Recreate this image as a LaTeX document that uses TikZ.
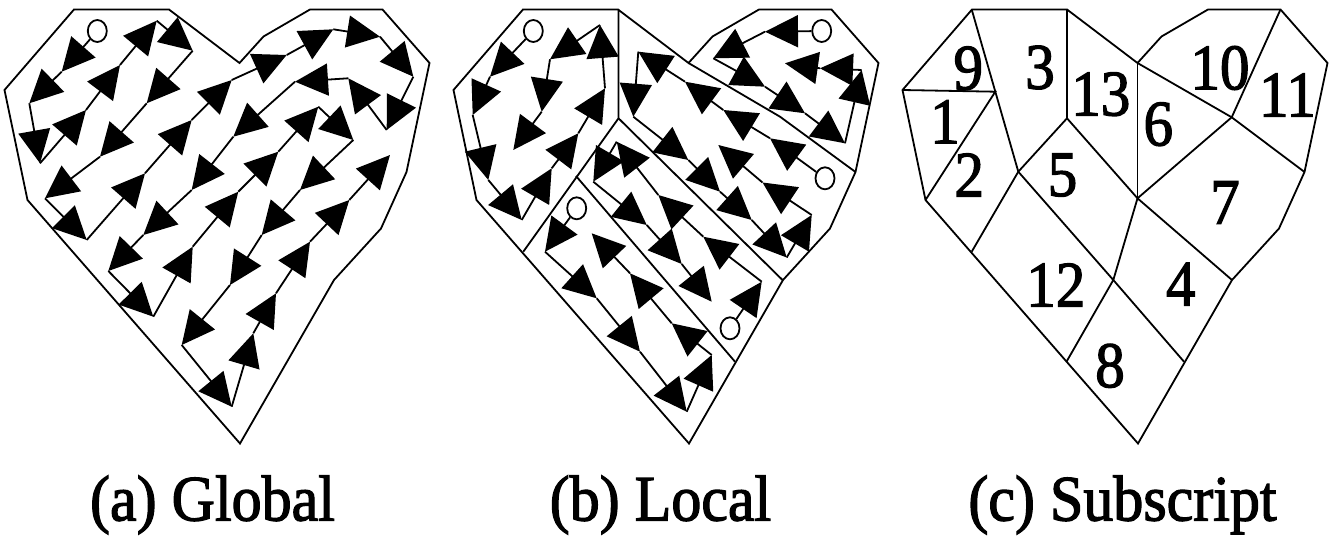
\documentclass[tikz,border=0pt]{standalone}
\usepackage{fontspec}
\setmainfont{Liberation Serif}
\newfontfamily\heavyserif[FakeBold=2]{Liberation Serif}
\usetikzlibrary{arrows.meta,shapes.geometric}
\begin{document}
\begin{tikzpicture}[x=1pt,y=-1pt,line width=1.8pt,line join=miter,
  seg/.style={-{Triangle[length=33pt,width=32pt]}},
  startc/.style={draw,ellipse,minimum width=19pt,minimum height=22pt,inner sep=0pt,fill=white},
  num/.style={inner sep=0pt,font=\heavyserif\fontsize{59}{61}\selectfont},
  captext/.style={anchor=base,inner sep=0pt,font=\heavyserif\fontsize{60}{62}\selectfont},
  heartshape/.pic={\draw (74,9.5) -- (169,9.5) -- (239.5,63) -- (263.5,36.5) -- (310,9.5) -- (382.5,9.5) -- (429.5,63) -- (406.5,172) -- (381,228.5) -- (334,280) -- (240,443.5) -- (27.5,200) -- (4.5,90) -- cycle;}]
\fill[white] (0,0) rectangle (1333,543);
\useasboundingbox (0,0) rectangle (1333,543);

% ---------- outlines
\pic at (0,0) {heartshape};
\pic at (449,0) {heartshape};
\pic at (898,0) {heartshape};

% ---------- (a) Global
\node[startc] (a0) at (97.3,31) {};
\foreach \x/\y [count=\k] in {61.7/71.7,29.3/103.3,40/163.3,86/110,120/65,156.7/20.7,192.7/50.7,146.7/103.3,100/156.7,45/198.3,86.7/240,145/173.3,191.7/120,231.7/80,286.7/55,333.3/29.3,380/36.7,413.3/76.7,386.7/130,348.3/78.3,295/81.7,233.3/136.7,191.7/190,143.3/235,108.3/271,153.3/316.7,192.7/246.7,238.3/191.7,278.3/151.7,318.3/106.7,353.3/140,300/190,261.7/235,230/285,181.7/345,231.7/406.7,253.3/333.3,276/293.3,310/241.7,349.3/200,390/155}
  \coordinate (a\k) at (\x,\y);
\foreach \i [count=\j] in {0,...,40} \draw[seg] (a\i) -- (a\j);

% ---------- (b) Local : region borders
\coordinate (bt) at (618.5,9.5);
\coordinate (bm) at (618.5,118.3);
\coordinate (bl) at (523.3,251.7);
\coordinate (bn) at (688.5,63);
\coordinate (bk) at (780,116.7);
\coordinate (br) at (855.5,172);
\coordinate (bq) at (782.5,280);
\coordinate (bs) at (576,176);
\coordinate (be) at (735,361.7);
\draw (bt) -- (bm) -- (bl);
\draw (bn) -- (bk) -- (br);
\draw (bm) -- (bq);
\draw (bs) -- (be);

% region 1
\node[startc] (p0) at (533.3,31) {};
\foreach \x/\y [count=\k] in {490/76.7,472.7/115,488.3/180,521.7/220,551.7/168.3,578.3/133.3,605/88.3,600/25,550/59.3,541.7/111.7,513.3/150}
  \coordinate (p\k) at (\x,\y);
\foreach \i [count=\j] in {0,...,10} \draw[seg] (p\i) -- (p\j);

% region 2
\node[startc] (q0) at (821.7,31) {};
\foreach \x/\y [count=\k] in {765/31.7,713.3/58.3,765/86.7,805/113.3,845/143.3,861.7/70,820/68.3,785/63.3}
  \coordinate (q\k) at (\x,\y);
\foreach \i [count=\j] in {0,...,7} \draw[seg] (q\i) -- (q\j);

% region 3
\node[startc] (r0) at (825,178.3) {};
\foreach \x/\y [count=\k] in {770/138.3,723.3/110,685/81.7,638.3/51.7,633.3/116.7,688.3/160,720/191.7,751.7/220,786.7/257.5,811.7/215,762.5/182.5,718.3/145}
  \coordinate (r\k) at (\x,\y);
\foreach \i [count=\j] in {0,...,11} \draw[seg] (r\i) -- (r\j);

% region 4
\node[startc] (s0) at (730,328.3) {};
\foreach \x/\y [count=\k] in {761.7/281.7,703.3/236.7,658.3/195,616.7/141.7,593.3/181.7,646.7/225,681.7/264,711.7/301.7}
  \coordinate (s\k) at (\x,\y);
\foreach \i [count=\j] in {0,...,7} \draw[seg] (s\i) -- (s\j);

% region 5
\node[startc] (u0) at (576.7,208.3) {};
\foreach \x/\y [count=\k] in {545/251.7,596.7/298.3,640/351.7,686.7/411.7,711.7/355,671.7/323.3,630/273.3,591.7/233.3}
  \coordinate (u\k) at (\x,\y);
\foreach \i [count=\j] in {0,...,7} \draw[seg] (u\i) -- (u\j);

% ---------- (c) Subscript : region borders
\draw (971.7,9.5) -- (1018.3,171.7);
\draw (902.5,90) -- (995.3,91.7) -- (925.5,200);
\draw (1067,9.5) -- (1067,118.3) -- (1018.3,171.7) -- (971.7,251.7);
\draw (1067,118.3) -- (1137.5,198.3);
\draw (1137.5,63) -- (1137.5,198.3);
\draw (1137.5,63) -- (1231.7,117.3) -- (1304.5,172);
\draw (1280.5,9.5) -- (1231.7,117.3) -- (1137.5,198.3);
\draw (1018.3,171.7) -- (1113.3,280) -- (1184,361.7);
\draw (1137.5,198.3) -- (1113.3,280) -- (1066.5,361.7);
\draw (1137.5,198.3) -- (1232,280);

\node[num] (n9) at (968.3,68.3) {\scalebox{1}[1.1]{9}};
\node[num] (n3) at (1040,67.5) {\scalebox{1}[1.1]{3}};
\node[num] (n13) at (1100.8,94.2) {\scalebox{1}[1.1]{13}};
\node[num] (n10) at (1220,68) {\scalebox{1}[1.1]{10}};
\node[num] (n11) at (1287.5,95) {\scalebox{1}[1.1]{11}};
\node[num] (n1) at (945,121.7) {\scalebox{1}[1.1]{1}};
\node[num] (n6) at (1158.3,124.2) {\scalebox{1}[1.1]{6}};
\node[num] (n2) at (969.2,175) {\scalebox{1}[1.1]{2}};
\node[num] (n5) at (1062.5,175) {\scalebox{1}[1.1]{5}};
\node[num] (n7) at (1225,202.5) {\scalebox{1}[1.1]{7}};
\node[num] (n12) at (1055.8,285) {\scalebox{1}[1.1]{12}};
\node[num] (n4) at (1180.8,284.2) {\scalebox{1}[1.1]{4}};
\node[num] (n8) at (1110,365.8) {\scalebox{1}[1.1]{8}};

% ---------- captions
\node[captext] (capa) at (212.5,520.5) {\scalebox{1}[1.08]{(a) Global}};
\node[captext] (capb) at (660.5,520.5) {\scalebox{1}[1.08]{(b) Local}};
\node[captext] (capc) at (1122.5,520.5) {\scalebox{1}[1.08]{(c) Subscript}};
\end{tikzpicture}
\end{document}
